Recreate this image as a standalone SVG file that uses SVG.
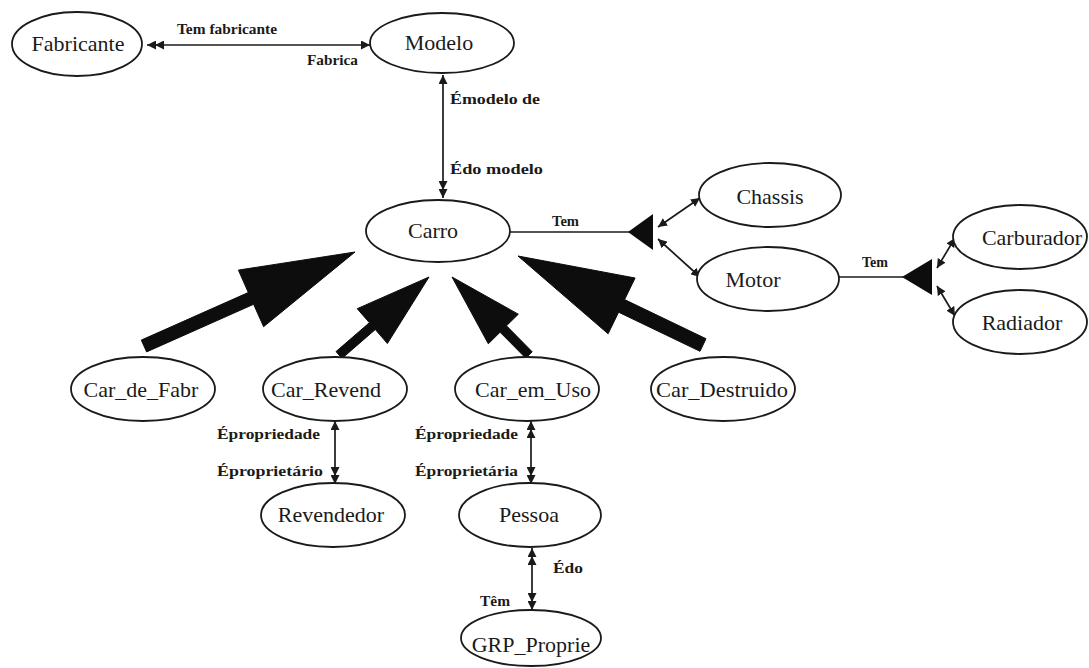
<svg xmlns="http://www.w3.org/2000/svg" width="1089" height="668" viewBox="0 0 1089 668">
  <defs>
    <style>
      .node ellipse { fill: #ffffff; stroke: #1a1a1a; stroke-width: 1.8; }
      .node text { font-family: "Liberation Serif", "Times New Roman", serif; font-size: 22px; fill: #1a1a1a; text-anchor: middle; }
      .link { stroke: #1a1a1a; stroke-width: 1.7; fill: none; }
      .single { marker-start: url(#one); marker-end: url(#one); }
      .lbl { font-family: "Liberation Serif", "Times New Roman", serif; font-size: 15px; font-weight: bold; fill: #1a1a1a; }
      .heavy { fill: #0d0d0d; stroke: #0d0d0d; stroke-width: 1; stroke-linejoin: round; }
    </style>
    <!-- single small arrowhead; tip sits on the line end -->
    <marker id="one" viewBox="0 0 9 9" refX="9" refY="4.5" markerWidth="9" markerHeight="9" markerUnits="userSpaceOnUse" orient="auto-start-reverse">
      <path d="M0,0 L9,4.5 L0,9 Z" fill="#1a1a1a"/>
    </marker>
    <!-- doubled arrowhead (many side) -->
    <marker id="two" viewBox="0 0 17 9" refX="17" refY="4.5" markerWidth="17" markerHeight="9" markerUnits="userSpaceOnUse" orient="auto-start-reverse">
      <path d="M0,0 L9,4.5 L0,9 Z M8,0 L17,4.5 L8,9 Z" fill="#1a1a1a"/>
    </marker>
  </defs>

  <rect width="1089" height="668" fill="#ffffff"/>

  <!-- connectors -->
  <g id="connectors">
    <!-- Fabricante <-> Modelo -->
    <line class="link" x1="147" y1="45" x2="370" y2="45" marker-start="url(#two)" marker-end="url(#one)"/>
    <!-- Modelo <-> Carro -->
    <line class="link" x1="443" y1="75" x2="443" y2="198" marker-start="url(#one)" marker-end="url(#two)"/>
    <!-- Carro composition: Chassis, Motor -->
    <line class="link" x1="510" y1="232" x2="630" y2="232"/>
    <polygon points="628,232 653,214 653,250" fill="#0d0d0d"/>
    <line class="link single" x1="658" y1="227" x2="700" y2="198"/>
    <line class="link single" x1="658" y1="239" x2="700" y2="277"/>
    <!-- Motor composition: Carburador, Radiador -->
    <line class="link" x1="839" y1="277" x2="904" y2="277"/>
    <polygon points="902,277 932,259 932,295" fill="#0d0d0d"/>
    <line class="link single" x1="937" y1="268" x2="955" y2="238"/>
    <line class="link single" x1="937" y1="286" x2="955" y2="316"/>
    <!-- specialisations of Carro -->
    <polygon class="heavy" points="146.6,351.9 253.6,304.3 263.6,326.7 355,252 238.4,270.1 248.3,292.5 141.3,340.1"/>
    <polygon class="heavy" points="342,358.4 375.3,329.5 387.4,343.5 429,277 357.2,308.7 369.4,322.7 336,351.6"/>
    <polygon class="heavy" points="532.2,351.8 506.5,325.8 518.3,314.2 452,277 488.3,343.8 500.1,332.2 525.8,358.2"/>
    <polygon class="heavy" points="700,351.3 618.6,312.2 608.1,333.8 518,256 635.1,278 624.6,299.6 706,338.7"/>
    <!-- ownership links -->
    <line class="link" x1="335" y1="421" x2="335" y2="484" marker-start="url(#one)" marker-end="url(#two)"/>
    <line class="link" x1="531" y1="421" x2="531" y2="484" marker-start="url(#two)" marker-end="url(#two)"/>
    <line class="link" x1="532" y1="548" x2="532" y2="610" marker-start="url(#two)" marker-end="url(#two)"/>

    <!-- role labels -->
    <text class="lbl" x="177" y="34" textLength="100" lengthAdjust="spacingAndGlyphs">Tem fabricante</text>
    <text class="lbl" x="307" y="65" textLength="51" lengthAdjust="spacingAndGlyphs">Fabrica</text>
    <text class="lbl" x="450" y="104" textLength="90" lengthAdjust="spacingAndGlyphs">Émodelo de</text>
    <text class="lbl" x="450" y="174" textLength="93" lengthAdjust="spacingAndGlyphs">Édo modelo</text>
    <text class="lbl" x="552" y="226" textLength="27" lengthAdjust="spacingAndGlyphs">Tem</text>
    <text class="lbl" x="862" y="267" textLength="26" lengthAdjust="spacingAndGlyphs">Tem</text>
    <text class="lbl" x="217" y="439" textLength="103" lengthAdjust="spacingAndGlyphs">Épropriedade</text>
    <text class="lbl" x="217" y="476" textLength="106" lengthAdjust="spacingAndGlyphs">Éproprietário</text>
    <text class="lbl" x="415" y="439" textLength="103" lengthAdjust="spacingAndGlyphs">Épropriedade</text>
    <text class="lbl" x="415" y="476" textLength="103" lengthAdjust="spacingAndGlyphs">Éproprietária</text>
    <text class="lbl" x="553" y="573" textLength="30" lengthAdjust="spacingAndGlyphs">Édo</text>
    <text class="lbl" x="480" y="606" textLength="30" lengthAdjust="spacingAndGlyphs">Têm</text>
  </g>

  <!-- entities -->
  <g id="fabricante" class="node"><ellipse cx="77" cy="44" rx="65" ry="32"/><text x="78" y="51">Fabricante</text></g>
  <g id="modelo" class="node"><ellipse cx="442" cy="43" rx="72" ry="30"/><text x="439" y="50">Modelo</text></g>
  <g id="carro" class="node"><ellipse cx="438" cy="231" rx="72" ry="31"/><text x="433" y="238">Carro</text></g>
  <g id="chassis" class="node"><ellipse cx="770" cy="195" rx="71" ry="32"/><text x="770" y="204">Chassis</text></g>
  <g id="motor" class="node"><ellipse cx="768" cy="279" rx="71" ry="32"/><text x="753" y="287">Motor</text></g>
  <g id="carburador" class="node"><ellipse cx="1020" cy="237" rx="67" ry="32"/><text x="1032" y="245">Carburador</text></g>
  <g id="radiador" class="node"><ellipse cx="1020" cy="322" rx="67" ry="32"/><text x="1022" y="330">Radiador</text></g>
  <g id="car_de_fabr" class="node"><ellipse cx="143" cy="389" rx="72" ry="32"/><text x="141" y="397">Car_de_Fabr</text></g>
  <g id="car_revend" class="node"><ellipse cx="335" cy="389" rx="72" ry="32"/><text x="326" y="397">Car_Revend</text></g>
  <g id="car_em_uso" class="node"><ellipse cx="527" cy="389" rx="72" ry="32"/><text x="533" y="397">Car_em_Uso</text></g>
  <g id="car_destruido" class="node"><ellipse cx="723" cy="389" rx="72" ry="32"/><text x="722" y="397" textLength="132" lengthAdjust="spacingAndGlyphs">Car_Destruido</text></g>
  <g id="revendedor" class="node"><ellipse cx="333" cy="515" rx="72" ry="32"/><text x="331" y="522">Revendedor</text></g>
  <g id="pessoa" class="node"><ellipse cx="530" cy="515" rx="71" ry="32"/><text x="529" y="522">Pessoa</text></g>
  <g id="grp_proprie" class="node"><ellipse cx="531" cy="638" rx="70" ry="28"/><text x="531" y="652">GRP_Proprie</text></g>
</svg>
